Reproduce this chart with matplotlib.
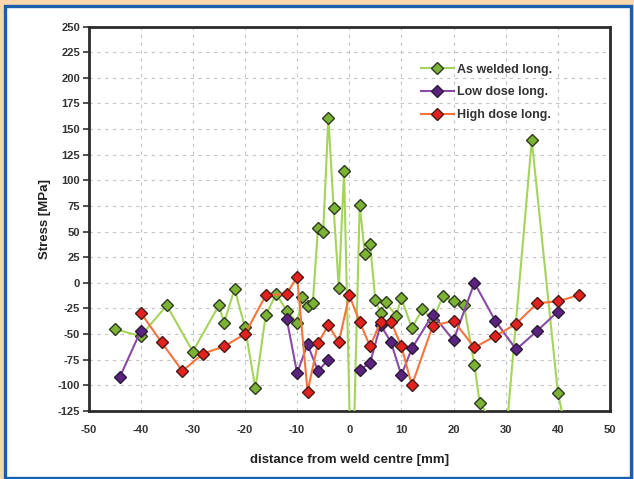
import matplotlib
matplotlib.use('Agg')
import matplotlib.pyplot as plt
import numpy as np
from matplotlib.patches import Rectangle

plt.rcParams['font.family'] = ['Liberation Sans', 'DejaVu Sans']
plt.rcParams['axes.unicode_minus'] = False

# ---- data ----
welded_x = [-45, -40, -35, -30, -25, -24, -22, -20, -18, -16, -14, -12, -10, -9, -8, -7,
            -6, -5, -4, -3, -2, -1, 0.5, 2, 3, 4, 5, 6, 7, 9, 10, 12, 14, 16, 18, 20, 22,
            24, 25, 30, 35, 40, 43]
welded_y = [-45, -52, -22, -67, -22, -39, -6, -43, -103, -31, -11, -27, -39, -14, -23, -20,
            53, 50, 161, 73, -5, 109, -225, 76, 28, 38, -17, -29, -19, -32, -15, -44, -26, -36,
            -13, -18, -22, -80, -117, -153, 139, -107, -180]

low_x = [-44, -40, np.nan, -12, -10, -8, -6, -4, np.nan, 2, 4, 6, 8, 10, 12, 16, 20, 24, 28, 32, 36, 40]
low_y = [-92, -47, np.nan, -35, -88, -60, -86, -75, np.nan, -85, -78, -41, -58, -90, -64, -31, -56, 0, -37, -65, -47, -28]

high_x = [-40, -36, -32, -28, -24, -20, -16, -12, -10, -8, -6, -4, -2, 0, 2, 4, 6, 8, 10, 12,
          16, 20, 24, 28, 32, 36, 40, 44]
high_y = [-29, -58, -86, -69, -62, -50, -12, -11, 6, -106, -59, -41, -58, -12, -38, -62, -38,
          -38, -62, -100, -42, -37, -63, -52, -40, -20, -18, -12]

labels = ["As welded long.", "Low dose long.", "High dose long."]
x_ticks = list(range(-50, 51, 10))
y_ticks = list(range(-125, 251, 25))

# ---- figure ----
W, H = 634, 479
fig = plt.figure(figsize=(W / 100, H / 100), dpi=100)
fig.patch.set_facecolor('#fbd7ae')
fig.add_artist(Rectangle((4.5 / W, 1.5 / H), (631 - 4.5) / W, (473.5 - 1.5) / H,
                         transform=fig.transFigure, facecolor='white',
                         edgecolor='#1b5ea9', linewidth=2.4, zorder=0))

ax = fig.add_axes([88.5 / W, 1 - 411 / H, (610 - 88.5) / W, (411 - 26.5) / H])
ax.set_facecolor('white')

ax.plot(welded_x, welded_y, color='#a5d45a', lw=1.5, marker='D', ms=6.3,
        mfc='#7cb334', mec='#2e3a22', mew=1.0, label=labels[0], zorder=3)
ax.plot(low_x, low_y, color='#8a4aa6', lw=1.5, marker='D', ms=6.3,
        mfc='#5a2380', mec='#2a1a35', mew=1.0, label=labels[1], zorder=4)
ax.plot(high_x, high_y, color='#f6743c', lw=1.5, marker='D', ms=6.3,
        mfc='#e3221f', mec='#4a1a15', mew=1.0, label=labels[2], zorder=5)

ax.set_xlim(-50, 50)
ax.set_ylim(-125, 250)
ax.set_xticks(x_ticks)
ax.set_yticks(y_ticks)
ax.grid(True, color='#c4c4c4', linestyle=(0, (3, 4)), linewidth=0.8, zorder=0)
ax.set_axisbelow(True)

for s in ax.spines.values():
    s.set_color('#2b2b2b')
    s.set_linewidth(2.0)

ax.tick_params(axis='y', direction='out', length=4, width=1.2, color='#333333',
               labelsize=8, labelcolor='#333333', pad=2)
ax.tick_params(axis='x', direction='out', length=0, labelsize=8,
               labelcolor='#333333', pad=10)
for lab in ax.get_xticklabels() + ax.get_yticklabels():
    lab.set_fontweight('bold')

ax.set_xlabel('distance from weld centre [mm]', fontsize=9.5, fontweight='bold',
              color='#222222', labelpad=14)
ax.set_ylabel('Stress [MPa]', fontsize=9.5, fontweight='bold', color='#222222',
              labelpad=5)

leg = ax.legend(loc='upper left', bbox_to_anchor=(0.628, 0.916), frameon=False,
                fontsize=9, handlelength=2.6, labelspacing=0.85, handletextpad=0.3,
                borderaxespad=0)
for t in leg.get_texts():
    t.set_fontweight('bold')
    t.set_color('#333333')

fig.savefig('out.png', dpi=100, facecolor=fig.get_facecolor())
